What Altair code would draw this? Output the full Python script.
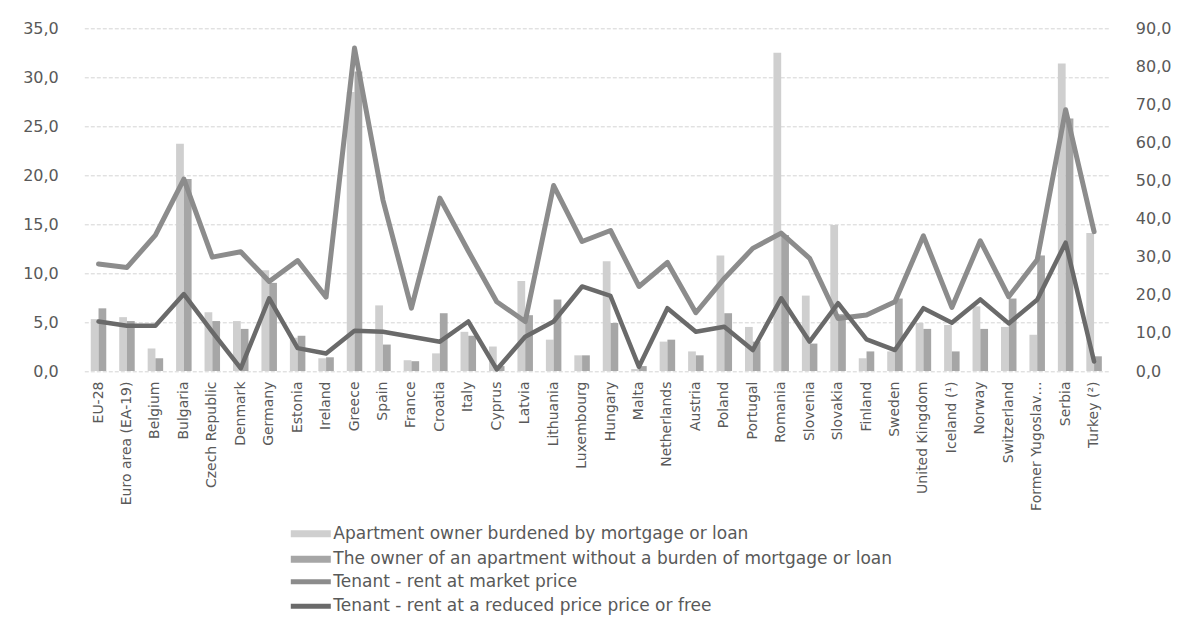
import altair as alt
import pandas as pd

categories = ["EU-28", "Euro area (EA-19)", "Belgium", "Bulgaria", "Czech Republic", "Denmark",
              "Germany", "Estonia", "Ireland", "Greece", "Spain", "France", "Croatia", "Italy",
              "Cyprus", "Latvia", "Lithuania", "Luxembourg", "Hungary", "Malta", "Netherlands",
              "Austria", "Poland", "Portugal", "Romania", "Slovenia", "Slovakia", "Finland",
              "Sweden", "United Kingdom", "Iceland (¹)", "Norway", "Switzerland",
              "Former Yugoslav Republic of Macedonia", "Serbia", "Turkey (²)"]

owner_mortgage = [5.3, 5.5, 2.3, 23.2, 6.0, 5.1, 10.3, 3.4, 1.3, 28.5, 6.7, 1.1, 1.8, 4.0, 2.5,
                  9.2, 3.2, 1.6, 11.2, 0.2, 3.0, 2.0, 11.8, 4.5, 32.5, 7.7, 14.9, 1.3, 2.0, 4.9,
                  4.7, 6.6, 4.5, 3.7, 31.4, 14.1]
owner_free = [6.4, 5.1, 1.3, 19.6, 5.1, 4.3, 9.0, 3.6, 1.4, 30.6, 2.7, 1.0, 5.9, 3.6, 0.5,
              5.7, 7.3, 1.6, 4.9, 0.5, 3.2, 1.6, 5.9, 3.0, 13.9, 2.8, 5.8, 2.0, 7.4, 4.3,
              2.0, 4.3, 7.4, 11.8, 25.8, 1.5]
tenant_market = [28.1, 27.2, 35.7, 50.4, 29.9, 31.3, 23.5, 29.0, 19.4, 84.8, 44.9, 16.5, 45.4,
                 31.5, 18.2, 13.0, 48.7, 34.0, 36.9, 22.2, 28.5, 15.3, 24.3, 32.2, 36.2, 29.6,
                 13.8, 14.7, 18.2, 35.5, 16.7, 34.2, 19.5, 29.2, 68.6, 36.6]
tenant_reduced = [13.0, 11.9, 11.9, 20.2, 10.3, 0.7, 19.1, 6.0, 4.6, 10.6, 10.3, 9.0, 7.7,
                  13.0, 0.4, 9.0, 13.0, 22.2, 19.7, 1.1, 16.5, 10.3, 11.6, 5.5, 19.1, 7.7,
                  17.8, 8.3, 5.5, 16.5, 12.7, 18.8, 12.5, 18.7, 33.7, 2.5]

bar_series = ["Apartment owner burdened by mortgage or loan",
              "The owner of an apartment without a burden of mortgage or loan"]
line_series = ["Tenant - rent at market price",
               "Tenant - rent at a reduced price price or free"]

bars = pd.DataFrame(
    [{"country": c, "series": bar_series[0], "value": v} for c, v in zip(categories, owner_mortgage)]
    + [{"country": c, "series": bar_series[1], "value": v} for c, v in zip(categories, owner_free)]
)
lines = pd.DataFrame(
    [{"country": c, "series": line_series[0], "value": v} for c, v in zip(categories, tenant_market)]
    + [{"country": c, "series": line_series[1], "value": v} for c, v in zip(categories, tenant_reduced)]
)

FONT = "DejaVu Sans"
TXT = "#595959"

x_enc = alt.X(
    "country:N", sort=categories, title=None,
    scale=alt.Scale(paddingInner=0.455, paddingOuter=0.2275),
    axis=alt.Axis(labelAngle=270, labelPadding=10, ticks=False, domain=False,
                  labelFont=FONT, labelFontSize=14, labelColor=TXT, labelLimit=200,
                  labelExpr="datum.label == 'Former Yugoslav Republic of Macedonia' ? 'Former Yugoslav…' : datum.label"),
)

bar_layer = alt.Chart(bars).mark_bar().encode(
    x=x_enc,
    xOffset=alt.XOffset("series:N", sort=bar_series),
    y=alt.Y("value:Q", title=None,
            scale=alt.Scale(domain=[0, 35], nice=False),
            axis=alt.Axis(values=[0, 5, 10, 15, 20, 25, 30, 35], orient="left",
                          labelExpr="replace(format(datum.value, '.1f'), '.', ',')",
                          labelPadding=26, ticks=False, domain=False, grid=True,
                          gridColor="#d4d4d4", gridDash=[4, 2], gridWidth=1,
                          labelFont=FONT, labelFontSize=16, labelColor=TXT)),
    fill=alt.Fill("series:N", sort=bar_series,
                  scale=alt.Scale(domain=bar_series, range=["#cfcfcf", "#a6a6a6"]),
                  legend=alt.Legend(title=None, orient="none", legendX=218, legendY=497,
                                    symbolType="M-4,-0.7H4V0.7H-4Z", symbolSize=100,
                                    symbolStrokeWidth=0, labelOffset=14, rowPadding=7.5,
                                    labelFont=FONT, labelFontSize=17, labelColor=TXT,
                                    labelLimit=800)),
)

line_layer = alt.Chart(lines).mark_line(strokeCap="round", strokeJoin="round").encode(
    x=x_enc,
    y=alt.Y("value:Q", title=None,
            scale=alt.Scale(domain=[0, 90], nice=False),
            axis=alt.Axis(values=[0, 10, 20, 30, 40, 50, 60, 70, 80, 90], orient="right",
                          labelExpr="replace(format(datum.value, '.1f'), '.', ',')",
                          labelPadding=27, ticks=False, domain=False, grid=False,
                          labelFont=FONT, labelFontSize=16, labelColor=TXT)),
    stroke=alt.Stroke("series:N", sort=line_series,
                      scale=alt.Scale(domain=line_series, range=["#8c8c8c", "#6a6a6a"]),
                      legend=alt.Legend(title=None, orient="none", legendX=218, legendY=545,
                                        symbolType="M-4,0H4", symbolSize=100,
                                        symbolStrokeWidth=5, labelOffset=14, rowPadding=3.5,
                                        labelFont=FONT, labelFontSize=17, labelColor=TXT,
                                        labelLimit=800)),
    strokeWidth=alt.StrokeWidth("series:N", sort=line_series,
                                scale=alt.Scale(domain=line_series, range=[5, 4.5]),
                                legend=None),
    order=alt.Order("series:N"),
)

chart = alt.layer(bar_layer, line_layer).resolve_scale(
    y="independent", fill="independent", stroke="independent"
).properties(
    width=1024, height=342.7,
    padding={"left": 84.3, "top": 28.3, "right": 70.7, "bottom": 251},
    autosize=alt.AutoSizeParams(type="none"),
    background="white",
).configure_view(stroke=None)

chart.save("out.html", embed_options={"renderer": "svg", "actions": False})
